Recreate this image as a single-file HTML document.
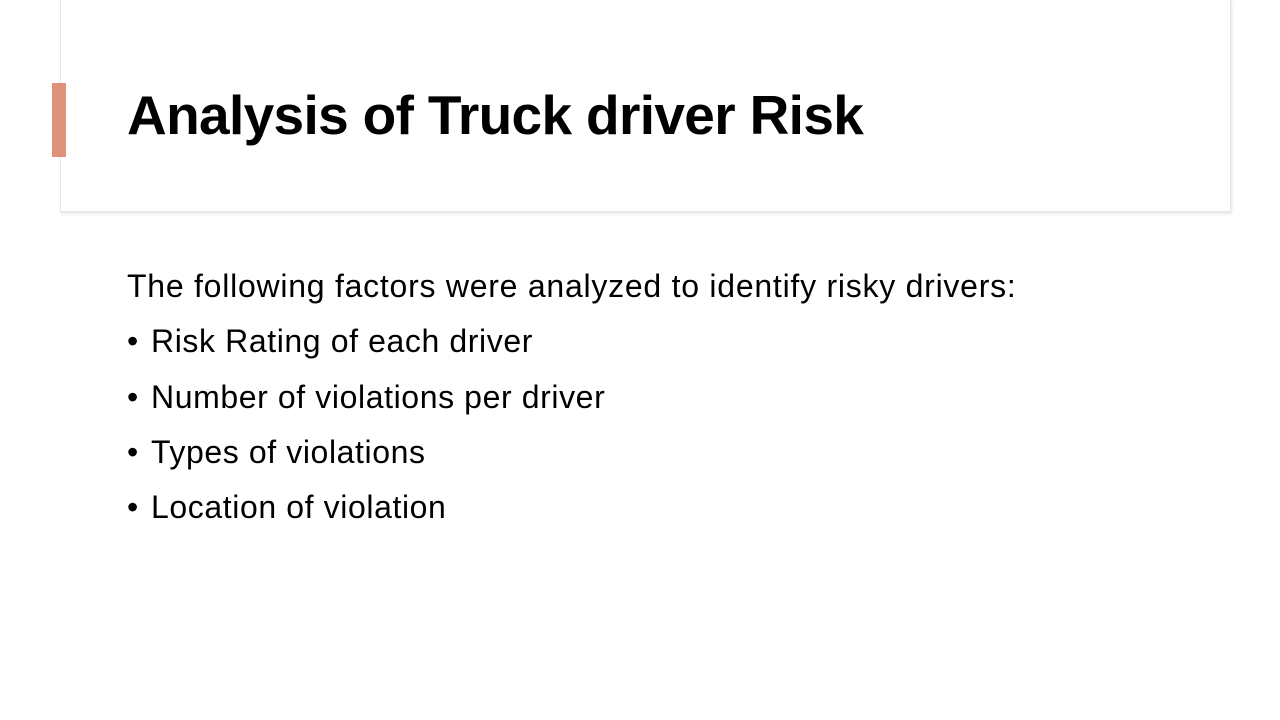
<!DOCTYPE html>
<html>
<head>
<meta charset="utf-8">
<style>
  html,body{margin:0;padding:0;}
  body{width:1280px;height:720px;position:relative;background:#ffffff;overflow:hidden;font-family:"Liberation Sans",Arial,sans-serif;color:#000;}
  .header{position:absolute;left:60px;top:-2px;width:1171px;height:214px;background:#fff;border:1px solid #e6e6e6;box-shadow:1px 2px 3px rgba(0,0,0,0.10);box-sizing:border-box;}
  .accent{position:absolute;left:52px;top:83px;width:14px;height:74px;background:#E0917A;}
  .title{position:absolute;left:127px;top:82px;font-size:55px;font-weight:bold;letter-spacing:-0.65px;line-height:66px;white-space:nowrap;}
  .line{position:absolute;left:127px;font-size:32px;line-height:40px;white-space:nowrap;letter-spacing:0.75px;}
  .bullet{position:absolute;left:127px;font-size:32px;line-height:40px;}
  .btext{position:absolute;left:151px;font-size:32px;line-height:40px;white-space:nowrap;letter-spacing:0.6px;}
</style>
</head>
<body>
  <div class="header"></div>
  <div class="accent"></div>
  <div class="title">Analysis of Truck driver Risk</div>

  <div class="line" style="top:266px">The following factors were analyzed to identify risky drivers:</div>

  <div class="bullet" style="top:321px">•</div>
  <div class="btext" style="top:321px">Risk Rating of each driver</div>

  <div class="bullet" style="top:377px">•</div>
  <div class="btext" style="top:377px">Number of violations per driver</div>

  <div class="bullet" style="top:432px">•</div>
  <div class="btext" style="top:432px">Types of violations</div>

  <div class="bullet" style="top:487px">•</div>
  <div class="btext" style="top:487px">Location of violation</div>
</body>
</html>
